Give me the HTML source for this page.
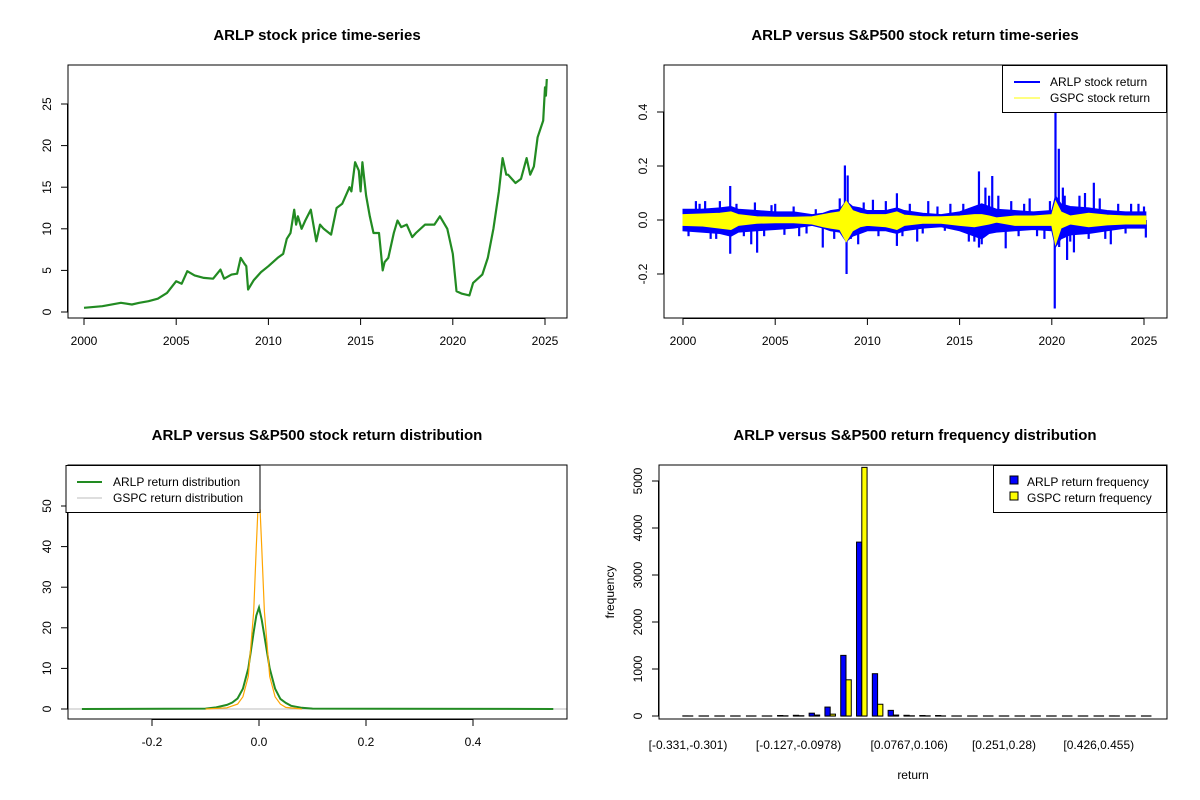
<!DOCTYPE html>
<html><head><meta charset="utf-8"><style>
html,body{margin:0;padding:0;background:#fff}
svg{display:block;font-family:"Liberation Sans",Arial,sans-serif}
</style></head><body>
<svg id="c" width="1200" height="800" viewBox="0 0 1200 800" xmlns="http://www.w3.org/2000/svg"></svg>
<script>
// ---- panel 1: price ----
const priceYears=[2000,2001,2002,2002.6,2003,2003.5,2004,2004.5,2005,2005.3,2005.6,2006,2006.5,2007,2007.4,2007.6,2008,2008.3,2008.5,2008.7,2008.8,2008.9,2009.2,2009.6,2010,2010.5,2010.8,2011,2011.2,2011.4,2011.5,2011.6,2011.8,2012,2012.3,2012.6,2012.8,2013,2013.4,2013.7,2014,2014.4,2014.5,2014.7,2014.9,2015.0,2015.1,2015.3,2015.5,2015.7,2016,2016.2,2016.3,2016.5,2016.8,2017,2017.2,2017.5,2017.8,2018,2018.5,2019,2019.3,2019.7,2020,2020.2,2020.5,2020.9,2021.1,2021.6,2021.9,2022.2,2022.5,2022.7,2022.9,2023,2023.4,2023.7,2024,2024.2,2024.4,2024.6,2024.9,2025,2025.05,2025.1];
const priceVals=[0.5,0.7,1.1,0.9,1.1,1.3,1.6,2.3,3.7,3.4,4.9,4.4,4.1,4.0,5.1,4.0,4.5,4.6,6.5,5.8,5.5,2.7,3.8,4.8,5.5,6.5,7,8.8,9.5,12.3,10.5,11.5,10.0,11,12.3,8.5,10.5,10,9.3,12.5,13,15,14.5,18,17,14.5,18,14,11.5,9.5,9.5,5,6.0,6.5,9.5,11,10.2,10.5,9,9.5,10.5,10.5,11.5,10,7,2.5,2.2,2,3.5,4.5,6.5,10,14.5,18.5,16.5,16.5,15.5,16,18.5,16.5,17.5,21,23,27,26,28];
const priceTicksX=[2000,2005,2010,2015,2020,2025];
const priceTicksY=[0,5,10,15,20,25];
// ---- panel 2: returns ----
const retYears=[2000,2001,2002,2002.6,2003,2004,2005,2006,2007,2007.6,2008,2008.5,2008.85,2009.2,2009.6,2010,2011,2011.6,2012,2013,2014,2015,2015.8,2016.2,2016.6,2017,2018,2019,2020,2020.2,2020.5,2021,2022,2023,2024,2025.1];
const arlpHi=[0.04,0.04,0.045,0.05,0.04,0.035,0.03,0.03,0.02,0.025,0.035,0.04,0.07,0.05,0.045,0.035,0.035,0.045,0.035,0.025,0.02,0.03,0.05,0.06,0.05,0.04,0.035,0.03,0.035,0.09,0.06,0.05,0.045,0.035,0.03,0.03];
const arlpLo=[-0.04,-0.045,-0.05,-0.06,-0.045,-0.04,-0.035,-0.03,-0.02,-0.03,-0.04,-0.045,-0.08,-0.06,-0.05,-0.04,-0.04,-0.05,-0.04,-0.03,-0.025,-0.04,-0.06,-0.07,-0.05,-0.045,-0.04,-0.035,-0.04,-0.1,-0.07,-0.055,-0.05,-0.04,-0.03,-0.03];
const gspcHi=[0.02,0.022,0.025,0.03,0.02,0.012,0.01,0.01,0.012,0.02,0.025,0.03,0.07,0.035,0.025,0.02,0.02,0.03,0.018,0.012,0.012,0.015,0.02,0.02,0.015,0.008,0.015,0.015,0.02,0.07,0.03,0.015,0.025,0.018,0.015,0.015];
const gspcLo=[-0.02,-0.022,-0.03,-0.035,-0.02,-0.012,-0.01,-0.01,-0.015,-0.025,-0.03,-0.035,-0.08,-0.04,-0.025,-0.02,-0.025,-0.035,-0.02,-0.012,-0.012,-0.02,-0.025,-0.02,-0.015,-0.008,-0.02,-0.02,-0.02,-0.09,-0.03,-0.015,-0.025,-0.018,-0.015,-0.015];
const spikeYears=[2002.56,2002.56,2004.02,2008.78,2008.87,2008.93,2007.58,2011.6,2011.6,2016.05,2016.05,2016.77,2017.5,2020.2,2020.16,2020.38,2020.83,2022.28,2025.1,2001.2,2003.7,2005.0,2006.3,2009.5,2010.3,2012.7,2013.3,2015.8,2016.4,2018.8,2019.6,2020.6,2021.2,2021.8,2023.2,2024.3,2000.7,2001.8,2014.5,2017.1,
2000.3,2000.9,2001.5,2002.0,2002.9,2003.3,2003.9,2004.4,2004.8,2005.5,2006.0,2006.7,2007.2,2008.2,2008.5,2009.1,2009.8,2010.6,2011.0,2011.9,2012.3,2013.0,2013.8,2014.2,2015.2,2015.5,2016.2,2016.6,2017.8,2018.2,2018.5,2019.2,2019.9,2020.4,2020.7,2021.0,2021.5,2022.0,2022.6,2022.9,2023.6,2024.0,2024.7,2025.0];
const spikeVals=[0.126,-0.125,-0.121,0.202,-0.2,0.165,-0.102,0.099,-0.096,0.18,-0.102,0.163,-0.105,0.397,-0.328,0.264,-0.148,0.138,-0.065,0.07,-0.09,0.06,-0.06,-0.09,0.075,-0.08,0.07,-0.08,0.12,0.08,-0.07,0.12,-0.12,0.1,-0.09,0.06,0.07,-0.07,0.06,0.09,
-0.06,0.06,-0.07,0.07,0.06,-0.06,0.065,-0.06,0.055,-0.055,0.05,-0.05,0.04,-0.07,0.08,-0.07,0.065,-0.06,0.07,-0.06,0.06,-0.05,0.05,-0.04,0.06,-0.08,-0.09,0.09,0.07,-0.06,0.06,-0.06,0.07,-0.1,0.09,-0.08,0.09,-0.07,0.08,-0.07,0.06,-0.05,0.06,0.05];
const retTicksY=[-0.2,0,0.2,0.4];
// ---- panel 3: density ----
const arlpDx=[-0.331,-0.1,-0.08,-0.06,-0.05,-0.04,-0.03,-0.02,-0.01,-0.005,0,0.005,0.01,0.02,0.03,0.04,0.05,0.06,0.08,0.1,0.55];
const arlpDy=[0,0.1,0.4,1.0,1.6,2.6,5,10,19,23,25,22,18,10,5,2.5,1.5,0.8,0.3,0.1,0];
const gspcDx=[-0.1,-0.06,-0.04,-0.03,-0.02,-0.01,-0.005,-0.002,0,0.002,0.005,0.01,0.02,0.03,0.04,0.05,0.08];
const gspcDy=[0,0.3,1.2,3,8,24,40,49,50.5,49,40,24,8,3,1.2,0.4,0];
const densTicksX=[-0.2,0,0.2,0.4];
const densTicksY=[0,10,20,30,40,50];
// ---- panel 4: histogram ----
const binLabels=["[-0.331,-0.301)","[-0.301,-0.272)","[-0.272,-0.243)","[-0.243,-0.214)","[-0.214,-0.185)","[-0.185,-0.156)","[-0.156,-0.127)","[-0.127,-0.0978)","[-0.0978,-0.0687)","[-0.0687,-0.0396)","[-0.0396,-0.0105)","[-0.0105,0.0186)","[0.0186,0.0476)","[0.0476,0.0767)","[0.0767,0.106)","[0.106,0.135)","[0.135,0.164)","[0.164,0.193)","[0.193,0.222)","[0.222,0.251)","[0.251,0.28)","[0.28,0.309)","[0.309,0.338)","[0.338,0.368)","[0.368,0.397)","[0.397,0.426)","[0.426,0.455)","[0.455,0.484)","[0.484,0.513)","[0.513,0.542)"];
const shownLabels=[0,7,14,20,26];
const arlpFreq=[1,0,0,0,0,0,10,15,60,190,1290,3700,900,120,15,10,10,0,0,0,0,0,0,0,0,0,0,1,0,0];
const gspcFreq=[0,0,0,0,0,0,3,5,20,40,770,5290,250,20,3,2,0,0,0,0,0,0,0,0,0,0,0,0,0,0];
const histTicksY=[0,1000,2000,3000,4000,5000];

const svg=document.getElementById('c');
const NS='http://www.w3.org/2000/svg';
function el(tag,attrs,parent){const e=document.createElementNS(NS,tag);for(const k in attrs)e.setAttribute(k,attrs[k]);(parent||svg).appendChild(e);return e;}
function txt(s,x,y,attrs,parent){const t=el('text',Object.assign({x:x,y:y,'font-size':12,fill:'#000','text-anchor':'middle'},attrs||{}),parent);t.textContent=s;return t;}
function group(name){const g=el('g',{});return g;}
function frame(g,x0,y0,x1,y1){const r=el('rect',{x:x0,y:y0,width:x1-x0,height:y1-y0,fill:'none',stroke:'#000','stroke-width':1},g);}
function xaxis(g,ticks,sx,yb,fmt){const a=group('x-axis');g.appendChild(a);const x0=sx(ticks[0]),x1=sx(ticks[ticks.length-1]);el('line',{x1:x0,x2:x1,y1:yb+0.5,y2:yb+0.5,stroke:'#000'},a);ticks.forEach(v=>{const x=sx(v);el('line',{x1:x,x2:x,y1:yb,y2:yb+7,stroke:'#000'},a);const t=txt(fmt(v),x,yb+27,{},a);});}
function yaxis(g,ticks,sy,xl,fmt){const a=group('y-axis');g.appendChild(a);const y0=sy(ticks[0]),y1=sy(ticks[ticks.length-1]);el('line',{x1:xl-0.5,x2:xl-0.5,y1:y0,y2:y1,stroke:'#000'},a);ticks.forEach(v=>{const y=sy(v);el('line',{x1:xl-7,x2:xl,y1:y,y2:y,stroke:'#000'},a);const t=txt(fmt(v),xl-17,y,{transform:`rotate(-90 ${xl-17} ${y})`},a);});}
function title(g,s,x,y){const t=txt(s,x,y,{'font-size':15,'font-weight':'bold'},g);}
function poly(g,xs,ys,sx,sy,attrs){return el('polyline',Object.assign({points:xs.map((v,i)=>sx(v).toFixed(1)+','+sy(ys[i]).toFixed(1)).join(' '),fill:'none'},attrs),g);}

// Panel 1
{const g=group('price-panel');
const sx=v=>84+(v-2000)*18.44, sy=v=>312-v*8.32;
const p=poly(g,priceYears,priceVals,sx,sy,{stroke:'#228B22','stroke-width':2.2,'stroke-linejoin':'round'});

frame(g,68,65,567,318);
xaxis(g,priceTicksX,sx,318,v=>String(v));
yaxis(g,priceTicksY,sy,68,v=>String(v));
title(g,'ARLP stock price time-series',317,40);}

// Panel 2
{const g=group('return-panel');
const sx=v=>683+(v-2000)*18.44, sy=v=>220-v*270;
function band(hi,lo,color,name){const pts=retYears.map((y,i)=>sx(y)+','+sy(hi[i])).concat(retYears.map((y,i)=>sx(y)+','+sy(lo[i])).reverse());const e=el('polygon',{points:pts.join(' '),fill:color,stroke:color,'stroke-width':1},g);}
band(arlpHi,arlpLo,'#0000FF','arlp-return-band');
spikeYears.forEach((y,i)=>{const l=el('line',{x1:sx(y),x2:sx(y),y1:sy(0),y2:sy(spikeVals[i]),stroke:'#0000FF','stroke-width':2.2},g);});
band(gspcHi,gspcLo,'#FFFF00','gspc-return-band');
frame(g,664,65,1167,318);
xaxis(g,priceTicksX,sx,318,v=>String(v));
yaxis(g,retTicksY,sy,664,v=>v.toFixed(1));
title(g,'ARLP versus S&P500 stock return time-series',915,40);
const lg=group('legend');g.appendChild(lg);
el('rect',{x:1002.5,y:65.5,width:164,height:47,fill:'#fff',stroke:'#000'},lg);
el('line',{x1:1014,x2:1040,y1:82,y2:82,stroke:'#0000FF','stroke-width':2},lg);
el('line',{x1:1014,x2:1040,y1:98,y2:98,stroke:'#FFFF00','stroke-width':1},lg);
txt('ARLP stock return',1050,86,{'text-anchor':'start'},lg);
txt('GSPC stock return',1050,102,{'text-anchor':'start'},lg);}

// Panel 3
{const g=group('density-panel');
const sx=v=>259+v*535, sy=v=>709-v*4.06;
el('line',{x1:68,x2:567,y1:sy(0),y2:sy(0),stroke:'#BEBEBE','stroke-width':1},g);
const a=poly(g,arlpDx,arlpDy,sx,sy,{stroke:'#228B22','stroke-width':2});
const b=poly(g,gspcDx,gspcDy,sx,sy,{stroke:'#FFA500','stroke-width':1.2});
frame(g,68,465,567,719);
xaxis(g,densTicksX,sx,719,v=>v===0?'0.0':v.toFixed(1));
yaxis(g,densTicksY,sy,68,v=>String(v));
title(g,'ARLP versus S&P500 stock return distribution',317,440);
const lg=group('legend');g.appendChild(lg);
el('rect',{x:66,y:465.5,width:194,height:47,fill:'#fff',stroke:'#000'},lg);
el('line',{x1:77,x2:102,y1:482,y2:482,stroke:'#228B22','stroke-width':2},lg);
el('line',{x1:77,x2:102,y1:498,y2:498,stroke:'#BEBEBE','stroke-width':1},lg);
txt('ARLP return distribution',113,486,{'text-anchor':'start'},lg);
txt('GSPC return distribution',113,502,{'text-anchor':'start'},lg);}

// Panel 4
{const g=group('histogram-panel');
const cx=i=>688+i*15.8, bw=5.27, sy=v=>716-v*0.047;
arlpFreq.forEach((v,i)=>{const l=el('line',{x1:cx(i)-bw,x2:cx(i)+bw,y1:sy(0),y2:sy(0),stroke:'#000','stroke-width':1.2},g);});
arlpFreq.forEach((v,i)=>{if(v<=0)return;const r=el('rect',{x:cx(i)-bw,y:sy(v),width:bw,height:sy(0)-sy(v),fill:'#0000FF',stroke:'#000','stroke-width':1},g);});
gspcFreq.forEach((v,i)=>{if(v<=0)return;const r=el('rect',{x:cx(i),y:sy(v),width:bw,height:sy(0)-sy(v),fill:'#FFFF00',stroke:'#000','stroke-width':1},g);});
frame(g,659,465,1167,719);
yaxis(g,histTicksY,sy,659,v=>String(v));
shownLabels.forEach(i=>{const t=txt(binLabels[i],cx(i),749,{},g);});
const xl=txt('return',913,779,{},g);
const yl=txt('frequency',614,592,{transform:'rotate(-90 614 592)'},g);
title(g,'ARLP versus S&P500 return frequency distribution',915,440);
const lg=group('legend');g.appendChild(lg);
el('rect',{x:993.5,y:465.5,width:173,height:47,fill:'#fff',stroke:'#000'},lg);
el('rect',{x:1010,y:476,width:8,height:8,fill:'#0000FF',stroke:'#000'},lg);
el('rect',{x:1010,y:492,width:8,height:8,fill:'#FFFF00',stroke:'#000'},lg);
txt('ARLP return frequency',1027,486,{'text-anchor':'start'},lg);
txt('GSPC return frequency',1027,502,{'text-anchor':'start'},lg);}
</script>
</body></html>
